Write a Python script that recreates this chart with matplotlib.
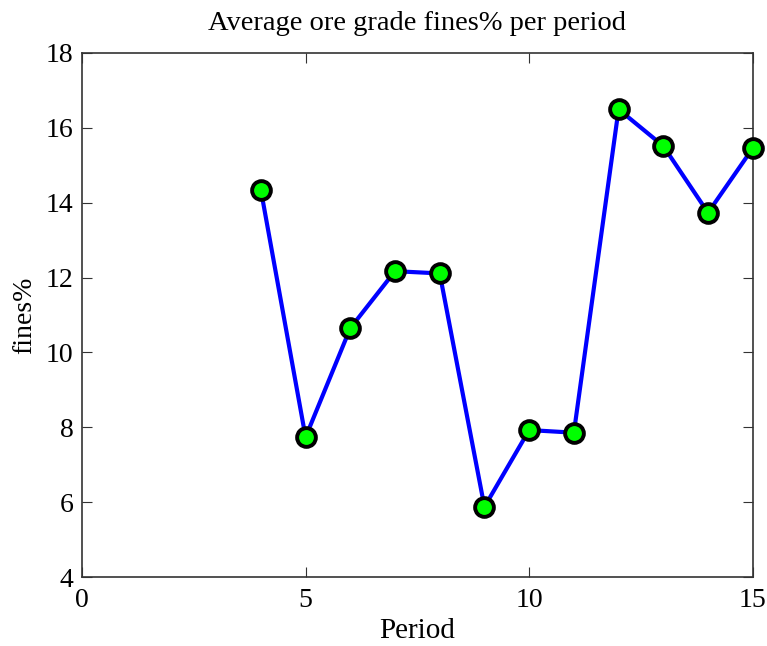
import matplotlib
matplotlib.use("Agg")
import matplotlib.pyplot as plt

periods = [4, 5, 6, 7, 8, 9, 10, 11, 12, 13, 14, 15]
fines = [14.34, 7.74, 10.65, 12.17, 12.11, 5.88, 7.93, 7.86, 16.49, 15.51, 13.73, 15.45]

plt.rcParams['font.family'] = ['Liberation Serif', 'DejaVu Serif']

fig = plt.figure(figsize=(7.67, 6.46), dpi=100)
ax = fig.add_axes([0.1069, 0.1063, 0.8745, 0.8121])
ax.plot(periods, fines, '-', color='#0000ff', linewidth=3,
        marker='o', markersize=13.5, markerfacecolor='#00ff00',
        markeredgecolor='black', markeredgewidth=2.8, clip_on=False, zorder=5)
ax.set_xlim(0, 15)
ax.set_ylim(4, 18)
ax.set_xticks([0, 5, 10, 15])
ax.set_yticks([4, 6, 8, 10, 12, 14, 16, 18])
ax.tick_params(direction='in', top=True, right=True, labelsize=20, length=7,
               pad=6, color='#333333')
ax.tick_params(axis='x', pad=8)
for s in ax.spines.values():
    s.set_linewidth(1.2)
    s.set_color('#333333')
ax.set_title('Average ore grade fines% per period', fontsize=20.5, pad=16)
ax.set_xlabel('Period', fontsize=21, labelpad=3)
ax.set_ylabel('fines%', fontsize=20, labelpad=6)
fig.savefig('out.png', dpi=100)
